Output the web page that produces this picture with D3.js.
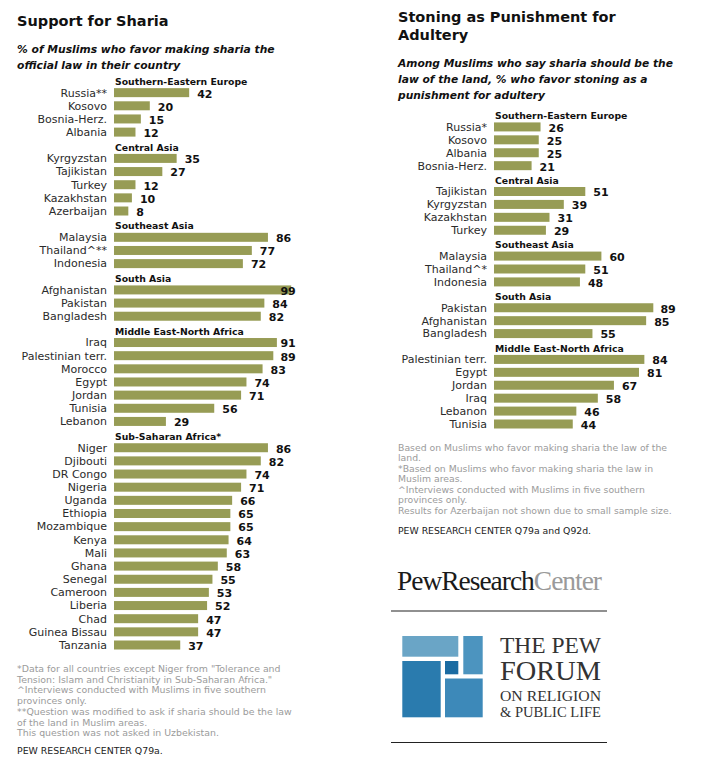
<!DOCTYPE html>
<html>
<head>
<meta charset="utf-8">
<script src="https://cdn.jsdelivr.net/npm/d3@7"></script>
<style>
  html, body { margin: 0; padding: 0; background: #fff; }
  svg { display: block; font-family: Verdana, 'DejaVu Sans', sans-serif; }
</style>
</head>
<body>
<script>
// support for sharia
const shariaGroups = ['Southern-Eastern Europe', 'Central Asia', 'Southeast Asia', 'South Asia', 'Middle East-North Africa', 'Sub-Saharan Africa*']
const shariaCountries = [
  ['Russia**', 'Kosovo', 'Bosnia-Herz.', 'Albania'],
  ['Kyrgyzstan', 'Tajikistan', 'Turkey', 'Kazakhstan', 'Azerbaijan'],
  ['Malaysia', 'Thailand^**', 'Indonesia'],
  ['Afghanistan', 'Pakistan', 'Bangladesh'],
  ['Iraq', 'Palestinian terr.', 'Morocco', 'Egypt', 'Jordan', 'Tunisia', 'Lebanon'],
  ['Niger', 'Djibouti', 'DR Congo', 'Nigeria', 'Uganda', 'Ethiopia', 'Mozambique', 'Kenya', 'Mali', 'Ghana', 'Senegal', 'Cameroon', 'Liberia', 'Chad', 'Guinea Bissau', 'Tanzania']
]
const shariaValues = [
  [42, 20, 15, 12],
  [35, 27, 12, 10, 8],
  [86, 77, 72],
  [99, 84, 82],
  [91, 89, 83, 74, 71, 56, 29],
  [86, 82, 74, 71, 66, 65, 65, 64, 63, 58, 55, 53, 52, 47, 47, 37]
]
const shariaNotes = [
  '*Data for all countries except Niger from "Tolerance and',
  'Tension: Islam and Christianity in Sub-Saharan Africa."',
  '^Interviews conducted with Muslims in five southern',
  'provinces only.',
  '**Question was modified to ask if sharia should be the law',
  'of the land in Muslim areas.',
  'This question was not asked in Uzbekistan.'
]

// stoning for adultery
const stoningGroups = ['Southern-Eastern Europe', 'Central Asia', 'Southeast Asia', 'South Asia', 'Middle East-North Africa']
const stoningCountries = [
  ['Russia*', 'Kosovo', 'Albania', 'Bosnia-Herz.'],
  ['Tajikistan', 'Kyrgyzstan', 'Kazakhstan', 'Turkey'],
  ['Malaysia', 'Thailand^*', 'Indonesia'],
  ['Pakistan', 'Afghanistan', 'Bangladesh'],
  ['Palestinian terr.', 'Egypt', 'Jordan', 'Iraq', 'Lebanon', 'Tunisia']
]
const stoningValues = [
  [26, 25, 25, 21],
  [51, 39, 31, 29],
  [60, 51, 48],
  [89, 85, 55],
  [84, 81, 67, 58, 46, 44]
]
const stoningNotes = [
  'Based on Muslims who favor making sharia the law of the',
  'land.',
  '*Based on Muslims who favor making sharia the law in',
  'Muslim areas.',
  '^Interviews conducted with Muslims in five southern',
  'provinces only.',
  'Results for Azerbaijan not shown due to small sample size.'
]

const colors = {
  bar: '#979c55',
  label: '#2b2b2b',
  note: '#9b9b9b'
}
const width = 701
const height = 761
const barHeight = 9

const svg = d3.select('body').append('svg')
  .attr('width', width)
  .attr('height', height)

const textLines = (sel, lines, x, y, lh, attrs) => {
  const t = sel.append('text').attr('x', x).attr('y', y)
  Object.entries(attrs).forEach(([k, v]) => t.attr(k, v))
  t.selectAll('tspan')
    .data(lines)
    .enter()
    .append('tspan')
    .attr('x', x)
    .attr('dy', (d, i) => i === 0 ? 0 : lh)
    .text(d => d)
  return t
}

const drawPanel = ({ groups, countries, values, x0, yFirst, yLast }) => {
  // slot per header + per row, header takes one row height
  const slots = []
  groups.forEach((g, gi) => {
    slots.push({ key: 'h' + gi, header: true, name: g })
    countries[gi].forEach((c, ci) => {
      slots.push({ key: 'r' + gi + '-' + ci, header: false, name: c, value: values[gi][ci] })
    })
  })

  const y = d3.scalePoint()
    .domain(slots.map(d => d.key))
    .range([yFirst, yLast])
  const x = d3.scaleLinear()
    .domain([0, 100])
    .range([x0, x0 + 179])

  const g = svg.append('g')
  const rows = slots.filter(d => !d.header)

  g.selectAll('text.header')
    .data(slots.filter(d => d.header))
    .enter()
    .append('text')
    .attr('class', 'header')
    .attr('x', x0 + 1)
    .attr('y', d => y(d.key) + 2)
    .attr('dy', '0.35em')
    .attr('font-size', 9.3)
    .attr('font-weight', 'bold')
    .attr('fill', '#111')
    .text(d => d.name)

  g.selectAll('rect.bar')
    .data(rows)
    .enter()
    .append('rect')
    .attr('class', 'bar')
    .attr('x', x(0))
    .attr('y', d => y(d.key) - barHeight / 2)
    .attr('width', d => x(d.value) - x(0))
    .attr('height', barHeight)
    .attr('fill', colors.bar)

  g.selectAll('text.country')
    .data(rows)
    .enter()
    .append('text')
    .attr('class', 'country')
    .attr('x', x0 - 7)
    .attr('y', d => y(d.key))
    .attr('dy', '0.35em')
    .attr('text-anchor', 'end')
    .attr('font-size', 11)
    .attr('fill', colors.label)
    .text(d => d.name)

  g.selectAll('text.value')
    .data(rows)
    .enter()
    .append('text')
    .attr('class', 'value')
    .attr('x', d => Math.min(x(d.value) + 8, x(93)))
    .attr('y', d => y(d.key) + 1)
    .attr('dy', '0.35em')
    .attr('font-size', 11)
    .attr('font-weight', 'bold')
    .attr('fill', '#111')
    .text(d => d.value)
}

// left panel
svg.append('text')
  .attr('x', 17).attr('y', 26)
  .attr('font-size', 14.5).attr('font-weight', 'bold').attr('fill', '#111')
  .text('Support for Sharia')
textLines(svg, ['% of Muslims who favor making sharia the', 'official law in their country'], 17, 53, 15.7,
  { 'font-size': 10.75, 'font-weight': 'bold', 'font-style': 'italic', fill: '#111' })

drawPanel({ groups: shariaGroups, countries: shariaCountries, values: shariaValues, x0: 114, yFirst: 79.5, yLast: 645 })

textLines(svg, shariaNotes, 17, 672, 10.7, { 'font-size': 9.4, fill: colors.note })
svg.append('text')
  .attr('x', 17).attr('y', 754)
  .attr('font-size', 9.4).attr('fill', '#222')
  .text('PEW RESEARCH CENTER Q79a.')

// right panel
textLines(svg, ['Stoning as Punishment for', 'Adultery'], 398, 22, 18.3,
  { 'font-size': 14.5, 'font-weight': 'bold', fill: '#111' })
textLines(svg, ['Among Muslims who say sharia should be the', 'law of the land, % who favor stoning as a', 'punishment for adultery'], 398, 66.5, 16,
  { 'font-size': 10.7, 'font-weight': 'bold', 'font-style': 'italic', fill: '#111' })

drawPanel({ groups: stoningGroups, countries: stoningCountries, values: stoningValues, x0: 494, yFirst: 114, yLast: 424 })

textLines(svg, stoningNotes, 398, 450.5, 10.5, { 'font-size': 9.3, fill: colors.note })
svg.append('text')
  .attr('x', 398).attr('y', 533.5)
  .attr('font-size', 9.3).attr('fill', '#222')
  .text('PEW RESEARCH CENTER Q79a and Q92d.')

// logos
const logo = svg.append('g').attr('font-family', "'Liberation Serif', 'DejaVu Serif', serif")
const prc = logo.append('text')
  .attr('x', 397).attr('y', 590)
  .attr('font-size', 27)
  .attr('textLength', 204).attr('lengthAdjust', 'spacingAndGlyphs')
  .attr('letter-spacing', -1)
prc.append('tspan').attr('fill', '#1a1a1a').text('PewResearch')
prc.append('tspan').attr('fill', '#9a9a9a').text('Center')

logo.selectAll('line.rule')
  .data([611, 742.5])
  .enter()
  .append('line')
  .attr('class', 'rule')
  .attr('x1', 391).attr('x2', 607)
  .attr('y1', d => d).attr('y2', d => d)
  .attr('stroke', '#222').attr('stroke-width', 1.2)

const squares = [
  { x: 402.3, y: 636, w: 56, h: 20.7, c: '#6aa5c6' },
  { x: 463.3, y: 636, w: 19.4, h: 38.3, c: '#4c94bf' },
  { x: 402.3, y: 661, w: 38.4, h: 56.3, c: '#2a7bae' },
  { x: 445, y: 661, w: 13.3, h: 13.3, c: '#1a6ba2' },
  { x: 445, y: 678.5, w: 37.7, h: 38.8, c: '#3d89b9' }
]
logo.selectAll('rect.sq')
  .data(squares)
  .enter()
  .append('rect')
  .attr('class', 'sq')
  .attr('x', d => d.x).attr('y', d => d.y)
  .attr('width', d => d.w).attr('height', d => d.h)
  .attr('fill', d => d.c)

const forum = [
  { t: 'THE PEW', y: 652.7, s: 23 },
  { t: 'FORUM', y: 680, s: 27 },
  { t: 'ON RELIGION', y: 701, s: 15 },
  { t: '& PUBLIC LIFE', y: 716.7, s: 14.5 }
]
logo.selectAll('text.forum')
  .data(forum)
  .enter()
  .append('text')
  .attr('class', 'forum')
  .attr('x', 500).attr('y', d => d.y)
  .attr('font-size', d => d.s)
  .attr('fill', '#333')
  .attr('textLength', 101).attr('lengthAdjust', 'spacingAndGlyphs')
  .text(d => d.t)
</script>
</body>
</html>
